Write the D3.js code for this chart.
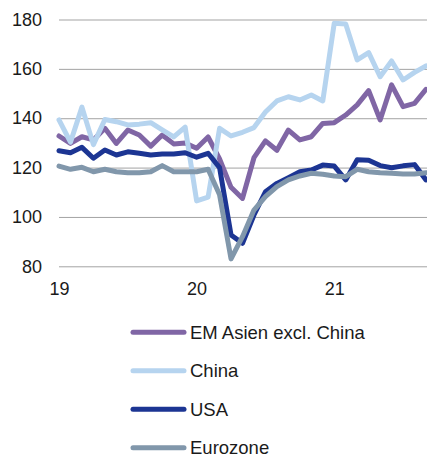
<!DOCTYPE html>
<html>
<head>
<meta charset="utf-8">
<script src="https://cdn.jsdelivr.net/npm/d3@7"></script>
<style>
  body { margin: 0; background: #fff; }
  text { font-family: "Liberation Sans", Arial, sans-serif; fill: #1a1a1a; }
</style>
</head>
<body>
<div id="chart"></div>
<script>
// Monthly index values, Jan 2019 .. Sep 2021
const months = d3.range(33);
const yearLabels = ["19", "20", "21"];
const yTicks = [80, 100, 120, 140, 160, 180];

const emAsia = [132.8, 129.8, 132.5, 131.2, 135.9, 129.8, 135.2, 133.2, 128.7, 133.2, 129.6, 130,
  127.8, 132.4, 123.5, 112, 107.5, 124, 130.8, 127, 135.2, 131.2, 132.5, 137.9,
  138.2, 141.3, 145.4, 151.2, 139.3, 153.5, 144.7, 146, 151.7];
const china = [139.3, 130.3, 144.5, 129.3, 139.5, 138.6, 137.3, 137.6, 138.2, 135.3, 132.4, 136.4,
  106.5, 108, 135.9, 132.8, 134.3, 136.2, 142.5, 147, 148.7, 147.4, 149.4, 147,
  178.5, 178.2, 163.6, 166.6, 156.8, 163.2, 155.5, 158.6, 161.2];
const usa = [126.8, 126, 128.2, 123.8, 127.1, 125.1, 126.4, 125.8, 125.1, 125.5, 125.5, 126,
  124.2, 125.8, 120, 92.7, 89.3, 100.8, 110.2, 113.6, 115.9, 118.3, 119, 121,
  120.6, 115, 123.2, 123, 120.8, 119.9, 120.7, 121.2, 115];
const eurozone = [120.6, 119.3, 120.1, 118.3, 119.3, 118.3, 117.9, 117.9, 118.3, 120.8, 118.3, 118.3,
  118.3, 119.3, 109, 83, 92, 102.8, 108.2, 112.3, 115, 116.6, 117.7, 117.3,
  116.6, 116.3, 119.3, 118.3, 117.9, 117.7, 117.4, 117.4, 117.9];

const seriesNames = ["EM Asien excl. China", "China", "USA", "Eurozone"];
const seriesColors = ["#8066a5", "#b6d4ef", "#1c3593", "#8197ab"];
const seriesValues = [emAsia, china, usa, eurozone];

const WIDTH = 427;
const HEIGHT = 457;
const PLOT_LEFT = 59;
const PLOT_RIGHT = 426;
const PLOT_TOP = 19.5;
const PLOT_BOTTOM = 266.3;
const FONT = "'Liberation Sans', Arial, sans-serif";

const svg = d3.select("#chart")
  .append("svg")
  .attr("width", WIDTH)
  .attr("height", HEIGHT);

const x = d3.scaleLinear().domain([0, 32]).range([PLOT_LEFT, PLOT_RIGHT]);
const y = d3.scaleLinear().domain([80, 180]).range([PLOT_BOTTOM, PLOT_TOP]);

// Y axis with gridlines
const yAxis = svg.append("g")
  .attr("transform", `translate(${PLOT_LEFT},0)`)
  .call(d3.axisLeft(y)
    .tickValues(yTicks)
    .tickSize(-(WIDTH - PLOT_LEFT))
    .tickPadding(17)
    .tickFormat(d3.format("d")));
yAxis.select(".domain").remove();
yAxis.selectAll(".tick line").attr("stroke", "#a3a3a3").attr("stroke-width", 1);
yAxis.selectAll(".tick text")
  .style("font-size", "18px")
  .style("font-family", FONT)
  .attr("fill", "#1a1a1a");

// X axis: year labels at each January
const xAxis = svg.append("g")
  .attr("transform", `translate(0,${PLOT_BOTTOM})`)
  .call(d3.axisBottom(x)
    .tickValues([0, 12, 24])
    .tickSize(0)
    .tickPadding(16)
    .tickFormat((d, i) => yearLabels[i]));
xAxis.select(".domain").remove();
xAxis.selectAll(".tick text")
  .style("font-size", "18px")
  .style("font-family", FONT)
  .attr("fill", "#1a1a1a");

// Lines
const line = d3.line()
  .x((d, i) => x(months[i]))
  .y((d) => y(d));

svg.selectAll(".series")
  .data(seriesValues)
  .enter()
  .append("path")
  .attr("class", "series")
  .attr("d", (d) => line(d))
  .attr("fill", "none")
  .attr("stroke", (d, i) => seriesColors[i])
  .attr("stroke-width", 5)
  .attr("stroke-linejoin", "round")
  .attr("stroke-linecap", "round");

// Legend
const legendItem = svg.selectAll(".legendItem")
  .data(seriesNames)
  .enter()
  .append("g")
  .attr("class", "legendItem")
  .attr("transform", (d, i) => `translate(0, ${332.3 + i * 38.5})`);

legendItem.append("line")
  .attr("x1", 133)
  .attr("x2", 184)
  .attr("stroke", (d, i) => seriesColors[i])
  .attr("stroke-width", 5)
  .attr("stroke-linecap", "round");

legendItem.append("text")
  .attr("x", 190)
  .attr("dy", "0.35em")
  .style("font-size", "18.5px")
  .text((d) => d);
</script>
</body>
</html>
